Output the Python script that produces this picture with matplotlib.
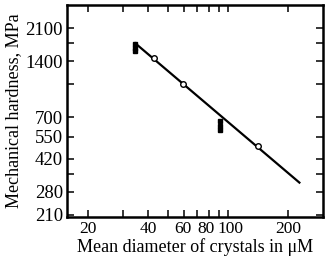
import matplotlib.pyplot as plt
from matplotlib.ticker import FixedLocator, NullFormatter
from matplotlib.transforms import ScaledTranslation

plt.rcParams['font.family'] = ['Liberation Serif', 'DejaVu Serif']

# measured points (clusters of several samples)
cluster_x = [34.5, 34.5, 34.5, 91.5, 91.5, 91.5]
cluster_y = [1720, 1650, 1580, 670, 630, 595]

# single measurements (open circles)
open_x = [42.8, 59.7, 141.6]
open_y = [1459, 1054, 492]

# fitted line end points
fit_x = [34.4, 227]
fit_y = [1745, 313]

x_major = [20, 40, 60, 80, 100, 200]
x_minor = [30, 50, 70, 90]
y_major = [210, 280, 420, 550, 700, 1400, 2100]
y_minor = [350, 1050, 1750]

fig = plt.figure(figsize=(3.3, 2.57), dpi=100)
ax = fig.add_axes([0.203, 0.156, 0.776, 0.825])

ax.plot(fit_x, fit_y, color='black', lw=1.6)
ax.plot(cluster_x, cluster_y, 's', color='black', ms=3)
ax.plot(open_x, open_y, 'o', mfc='white', mec='black', ms=4, mew=1)

ax.set_xscale('log')
ax.set_yscale('log')
ax.set_xlim(15.7, 298)
ax.set_ylim(205, 2800)

ax.xaxis.set_major_locator(FixedLocator(x_major))
ax.xaxis.set_minor_locator(FixedLocator(x_minor))
ax.set_xticklabels([str(v) for v in x_major])
ax.xaxis.set_minor_formatter(NullFormatter())
ax.yaxis.set_major_locator(FixedLocator(y_major))
ax.yaxis.set_minor_locator(FixedLocator(y_minor))
ax.set_yticklabels([str(v) for v in y_major])
ax.yaxis.set_minor_formatter(NullFormatter())

ax.tick_params(which='both', direction='in', top=True, right=True,
               width=1.1, length=5, pad=3)
ax.tick_params(axis='y', labelsize=13.5)
ax.tick_params(axis='x', labelsize=12.5)

# squeeze the crowded 60/80/100 labels apart a little
shifts = {'60': -1, '80': -3, '100': 2}
for lab in ax.get_xticklabels():
    dx = shifts.get(lab.get_text(), 0)
    if dx:
        lab.set_transform(lab.get_transform() + ScaledTranslation(dx / 100, 0, fig.dpi_scale_trans))

for s in ax.spines.values():
    s.set_linewidth(1.8)

ax.set_xlabel('Mean diameter of crystals in \u03bcM', fontsize=13, labelpad=1)
ax.set_ylabel('Mechanical hardness, MPa', fontsize=13, labelpad=2)

fig.savefig('out.png', dpi=100)
